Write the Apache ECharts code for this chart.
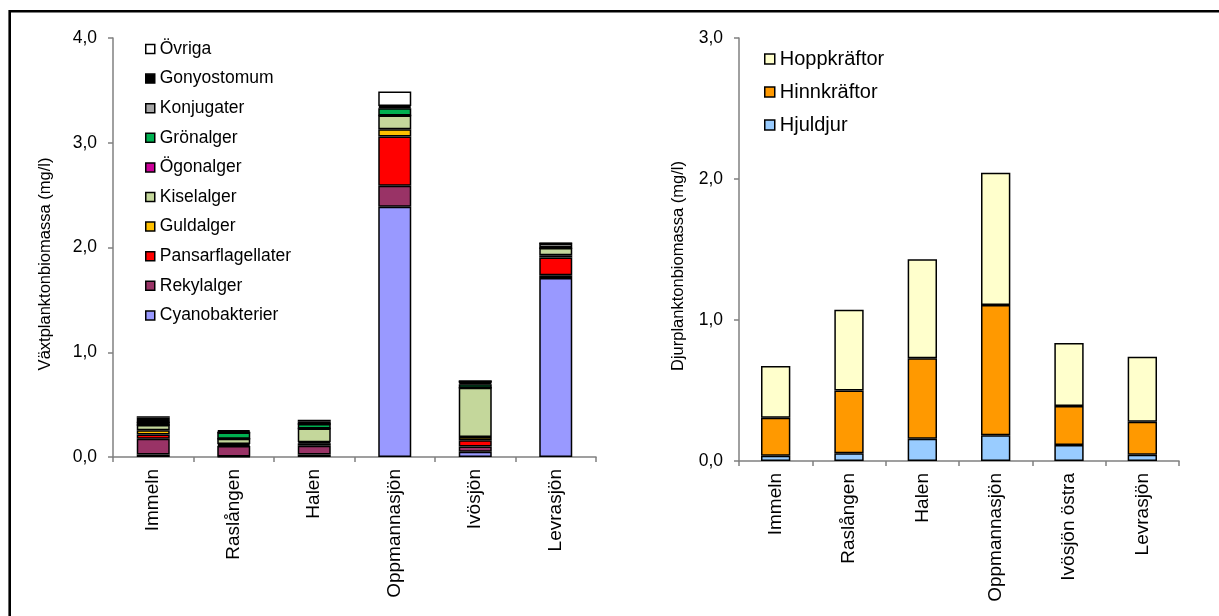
<!DOCTYPE html>
<html>
<head>
<meta charset="utf-8">
<script src="https://cdn.jsdelivr.net/npm/echarts@6/dist/echarts.min.js"></script>
<style>
html,body{margin:0;padding:0;background:#fff;}
#c{width:1219px;height:616px;}
</style>
</head>
<body>
<div id="c"></div>
<script>
// Left chart: phytoplankton biomass (mg/l)
const lakesLeft = ['Immeln', 'Raslången', 'Halen', 'Oppmannasjön', 'Ivösjön', 'Levrasjön'];
const cyanobakterier    = [0.025, 0.005, 0.024, 2.39, 0.05, 1.71];
const rekylalger        = [0.15, 0.10, 0.083, 0.20, 0.05, 0.025];
const pansarflagellater = [0.04, 0.01, 0.025, 0.47, 0.06, 0.17];
const guldalger         = [0.04, 0.01, 0.01, 0.07, 0.03, 0.02];
const kiselalger        = [0.05, 0.05, 0.13, 0.13, 0.47, 0.07];
const ogonalger         = [0, 0, 0, 0, 0, 0];
const gronalger         = [0.025, 0.06, 0.042, 0.07, 0.035, 0.005];
const konjugater        = [0, 0, 0, 0.01, 0.01, 0.035];
const gonyostomum       = [0.045, 0.01, 0.022, 0.01, 0.02, 0.005];
const ovriga            = [0.015, 0.01, 0.02, 0.14, 0, 0];
const leftTicks = [0, 1, 2, 3, 4];

// Right chart: zooplankton biomass (mg/l)
const lakesRight = ['Immeln', 'Raslången', 'Halen', 'Oppmannasjön', 'Ivösjön östra', 'Levrasjön'];
const hjuldjur    = [0.038, 0.055, 0.158, 0.182, 0.113, 0.045];
const hinnkraftor = [0.269, 0.445, 0.570, 0.924, 0.277, 0.234];
const hoppkraftor = [0.367, 0.573, 0.702, 0.939, 0.447, 0.461];
const rightTicks = [0, 1, 2, 3];

const leftSeries = [
  ['Cyanobakterier', cyanobakterier, '#9999FF'],
  ['Rekylalger', rekylalger, '#993366'],
  ['Pansarflagellater', pansarflagellater, '#FF0000'],
  ['Guldalger', guldalger, '#FFC000'],
  ['Kiselalger', kiselalger, '#C4D79B'],
  ['Ögonalger', ogonalger, '#CC0099'],
  ['Grönalger', gronalger, '#00B050'],
  ['Konjugater', konjugater, '#A6A6A6'],
  ['Gonyostomum', gonyostomum, '#000000'],
  ['Övriga', ovriga, '#FFFFFF']
];
const rightSeries = [
  ['Hjuldjur', hjuldjur, '#99CCFF'],
  ['Hinnkräftor', hinnkraftor, '#FF9900'],
  ['Hoppkräftor', hoppkraftor, '#FFFFCC']
];

const FONT = '"Liberation Sans", Arial, sans-serif';
const fmt = v => v.toFixed(1).replace('.', ',');

function yAxis(idx, ticks) {
  return {
    type: 'value', gridIndex: idx, min: ticks[0], max: ticks[ticks.length - 1], interval: 1,
    axisLine: {show: true, lineStyle: {color: '#808080', width: 1.5}},
    axisTick: {show: true, length: 5, lineStyle: {color: '#808080', width: 1.5}},
    axisLabel: {formatter: fmt, fontFamily: FONT, fontSize: 17.5, color: '#000', margin: 16},
    splitLine: {show: false}
  };
}
function xAxis(idx, cats) {
  return {
    type: 'category', gridIndex: idx, data: cats,
    axisLine: {lineStyle: {color: '#808080', width: 1.5}},
    axisTick: {show: true, length: 5, lineStyle: {color: '#808080', width: 1.5}},
    axisLabel: {rotate: 90, fontFamily: FONT, fontSize: 19, color: '#000', margin: 12, interval: 0}
  };
}

const series = [];
leftSeries.forEach(([n, d, c]) => series.push({
  name: n, type: 'bar', stack: 'L', xAxisIndex: 0, yAxisIndex: 0, data: d, barWidth: '41%',
  itemStyle: {color: c, borderColor: '#000', borderWidth: 1.5}
}));
rightSeries.forEach(([n, d, c]) => series.push({
  name: n, type: 'bar', stack: 'R', xAxisIndex: 1, yAxisIndex: 1, data: d, barWidth: '40%',
  itemStyle: {color: c, borderColor: '#000', borderWidth: 1.5}
}));

const chart = echarts.init(document.getElementById('c'), null, {renderer: 'canvas'});
chart.setOption({
  animation: false,
  backgroundColor: '#fff',
  grid: [
    {left: 113, top: 38, right: 623, bottom: 159},
    {left: 739, top: 38, right: 40, bottom: 155}
  ],
  xAxis: [xAxis(0, lakesLeft), xAxis(1, lakesRight)],
  yAxis: [yAxis(0, leftTicks), yAxis(1, rightTicks)],
  legend: [
    {
      orient: 'vertical', left: 145, top: 40, padding: 0, itemWidth: 9, itemHeight: 9, itemGap: 11.6,
      icon: 'rect', data: leftSeries.map(s => s[0]).reverse(),
      textStyle: {fontFamily: FONT, fontSize: 17.5, color: '#000', lineHeight: 17.5},
      itemStyle: {borderColor: '#000', borderWidth: 1.5}
    },
    {
      orient: 'vertical', left: 764, top: 49, padding: 0, itemWidth: 10, itemHeight: 10, itemGap: 13,
      icon: 'rect', data: rightSeries.map(s => s[0]).reverse(),
      textStyle: {fontFamily: FONT, fontSize: 20, color: '#000', lineHeight: 20},
      itemStyle: {borderColor: '#000', borderWidth: 1.5}
    }
  ],
  graphic: [
    {
      type: 'rect', shape: {x: 9.7, y: 11.2, width: 1400, height: 800},
      style: {fill: 'none', stroke: '#000', lineWidth: 2.6}, silent: true
    },
    {
      type: 'text', x: 45, y: 264, rotation: Math.PI / 2,
      style: {text: 'Växtplanktonbiomassa (mg/l)', fontFamily: FONT, fontSize: 16.5, fill: '#000',
              textAlign: 'center', textVerticalAlign: 'middle'}
    },
    {
      type: 'text', x: 678, y: 266, rotation: Math.PI / 2,
      style: {text: 'Djurplanktonbiomassa (mg/l)', fontFamily: FONT, fontSize: 16.5, fill: '#000',
              textAlign: 'center', textVerticalAlign: 'middle'}
    }
  ],
  series: series
});
</script>
</body>
</html>
